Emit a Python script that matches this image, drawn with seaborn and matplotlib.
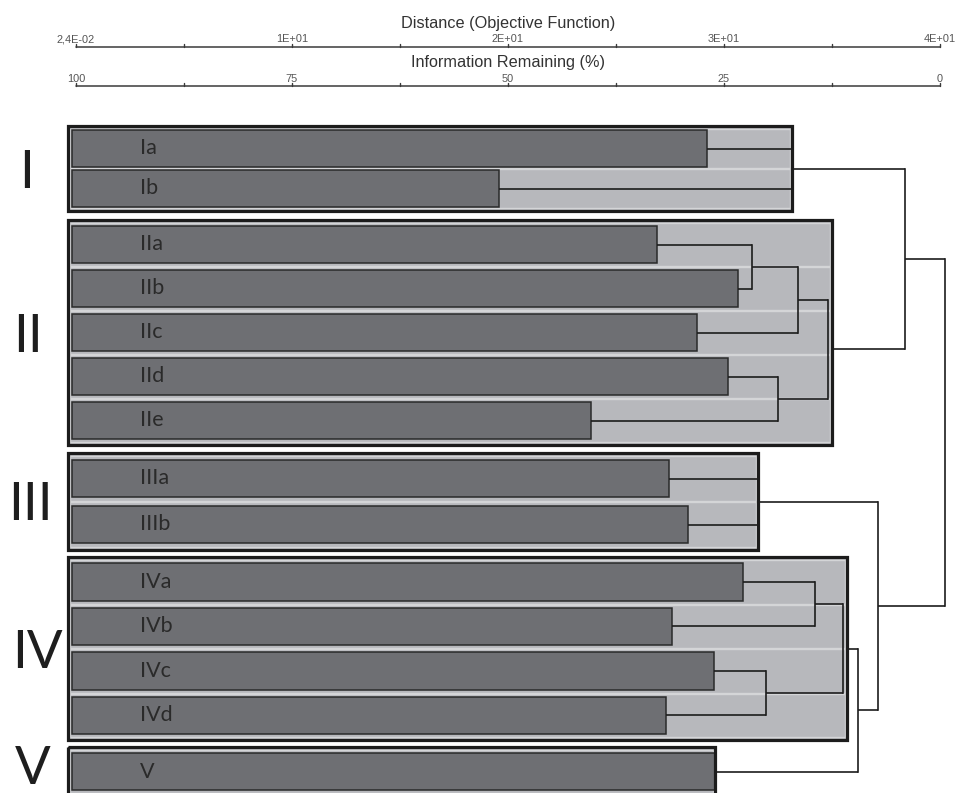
import matplotlib
matplotlib.use("Agg")
import matplotlib.pyplot as plt
from matplotlib.patches import Rectangle
import numpy as np
import pandas as pd
import seaborn as sns

# ---------------- data ----------------
group_names = ["I", "II", "III", "IV", "V"]
group_leaves = [["Ia", "Ib"],
                ["IIa", "IIb", "IIc", "IId", "IIe"],
                ["IIIa", "IIIb"],
                ["IVa", "IVb", "IVc", "IVd"],
                ["V"]]
leaf_names = ["Ia", "Ib", "IIa", "IIb", "IIc", "IId", "IIe",
              "IIIa", "IIIb", "IVa", "IVb", "IVc", "IVd", "V"]
# information remaining (%) at which each leaf bar ends
leaf_info_remaining = [27.0, 51.0, 32.8, 23.4, 28.1, 24.5, 40.4,
                       31.4, 29.2, 22.8, 31.0, 26.2, 31.7, 26.0]

# dendrogram merges (information remaining %)
merge_left = ["Ia", "IIa", "n1", "IId", "n2", "IIIa", "IVa", "IVc", "n4", "IV", "III", "I", "n8"]
merge_right = ["Ib", "IIb", "IIc", "IIe", "n3", "IIIb", "IVb", "IVd", "n5", "V", "n6", "II", "n7"]
merge_name = ["I", "n1", "n2", "n3", "II", "III", "n4", "n5", "IV", "n6", "n7", "n8", "root"]
merge_info_remaining = [17.1, 21.8, 16.4, 18.75, 13.0, 21.1, 14.5, 20.1, 11.2, 9.5, 7.2, 4.1, -0.6]

info_ticks = [100, 75, 50, 25, 0]
info_tick_labels = ["100", "75", "50", "25", "0"]
distance_tick_labels = ["2,4E-02", "1E+01", "2E+01", "3E+01", "4E+01"]

# ---------------- style / layout ----------------
BAR = "#6e6f73"
BOX = "#b7b8bc"
LANE_EDGE = "#d4d5d7"
INK = "#1c1c1c"

W, H = 956, 793
PX = 8.64          # pixels per percent
X0 = 76            # pixel of 100 % information remaining

box_tops = [126, 220, 453, 557, 747]
row_pitch = [40, 44, 46, 44.5, 44]
box_pad_px = [0, 4, 0, 4, 0]
group_label_x = [27, 28, 30, 37, 33]


def px(v):
    return v / PX


sns.set_theme(style="white")
plt.rcParams["font.family"] = ["Liberation Sans", "DejaVu Sans"]

fig = plt.figure(figsize=(W / 100, H / 100), dpi=100)
ax = fig.add_axes([0, 0, 1, 1])

# row positions
row_y = {}
for g, leaves in enumerate(group_leaves):
    for i, name in enumerate(leaves):
        row_y[name] = box_tops[g] + 2.5 + (i + 0.5) * row_pitch[g]

lost = {n: 100 - v for n, v in zip(leaf_names, leaf_info_remaining)}
node_lost = {n: 100 - v for n, v in zip(merge_name, merge_info_remaining)}

box_left = px(68 - X0)
bar_left = px(72 - X0)

group_right = {}
for g, gname in enumerate(group_names):
    if gname in node_lost:
        group_right[gname] = node_lost[gname] + px(box_pad_px[g])
    else:
        group_right[gname] = lost[gname]

# group boxes (fill + lanes), outline drawn on top
for g, gname in enumerate(group_names):
    n = len(group_leaves[g])
    hgt = n * row_pitch[g] + 5
    right = group_right[gname]
    ax.add_patch(Rectangle((box_left, box_tops[g]), right - box_left, hgt,
                           facecolor=BOX, edgecolor="none", zorder=0.5))
    for i, name in enumerate(group_leaves[g]):
        yc = row_y[name]
        ax.add_patch(Rectangle((box_left + px(2), yc - row_pitch[g] / 2 + 0.5),
                               right - box_left - px(4), row_pitch[g] - 1,
                               facecolor=BOX, edgecolor=LANE_EDGE, lw=1.0, zorder=0.6))
    ax.add_patch(Rectangle((box_left, box_tops[g]), right - box_left, hgt,
                           facecolor="none", edgecolor=INK, lw=2.3, zorder=6))

# bars through seaborn
df = pd.DataFrame({"leaf": leaf_names,
                   "lost": [lost[n] for n in leaf_names],
                   "y": [row_y[n] for n in leaf_names]})
n_before = len(ax.patches)
sns.barplot(data=df, x="lost", y="y", orient="y", native_scale=True,
            width=37.5 / 40, color=BAR, saturation=1, edgecolor="#2a2a2a",
            linewidth=1.1, errorbar=None, ax=ax)
for p in ax.patches[n_before:]:
    p.set_x(p.get_x() + bar_left)
    p.set_width(p.get_width() - bar_left)
    p.set_zorder(2)

# dendrogram
node_y = dict(row_y)
node_end = dict(lost)
for a, b, name in zip(merge_left, merge_right, merge_name):
    d = node_lost[name]
    ya, yb = node_y[a], node_y[b]
    for child, yy in ((a, ya), (b, yb)):
        ax.plot([node_end[child], d], [yy, yy], color=INK, lw=1.2, zorder=5,
                solid_capstyle="butt")
    ax.plot([d, d], [ya, yb], color=INK, lw=1.2, zorder=5, solid_capstyle="projecting")
    node_y[name] = (ya + yb) / 2
    node_end[name] = group_right[name] if name in group_right else d

# leaf labels
for name in leaf_names:
    ax.text(px(140 - X0), row_y[name] + 6, name, ha="left", va="baseline",
            fontsize=15.5, color="#2a2a2a", family=["Lato", "DejaVu Sans"], zorder=7)

# group labels
for g, gname in enumerate(group_names):
    n = len(group_leaves[g])
    if gname != "V":
        ax.text(px(group_label_x[g] - X0), box_tops[g] + (n * row_pitch[g] + 5) / 2 + 19,
                gname, ha="center", va="baseline", fontsize=38, color="#1e1e1e",
                family=["Lato", "DejaVu Sans"], zorder=7)
    else:
        ax.text(px(group_label_x[g] - X0), H - 0.5, gname, ha="center", va="bottom",
                fontsize=38, color="#1e1e1e", family=["Lato", "DejaVu Sans"], zorder=7)

# top scales
for y_line, labels, y_lab in ((47, distance_tick_labels, 42.5), (86, info_tick_labels, 81.5)):
    ax.plot([0, 100], [y_line, y_line], color="#3a3a3a", lw=1.1, zorder=5)
    for t in np.arange(0, 100.01, 12.5):
        ax.plot([t, t], [y_line, y_line - 3], color="#3a3a3a", lw=1.0, zorder=5)
    for t, lab in zip(info_ticks, labels):
        ax.text(100 - t, y_lab, lab, ha="center", va="baseline", fontsize=7.9,
                color="#555555")

ax.text(50, 28.3, "Distance (Objective Function)", ha="center", va="baseline",
        fontsize=11.7, color="#333333")
ax.text(50, 66.7, "Information Remaining (%)", ha="center", va="baseline",
        fontsize=11.7, color="#333333")

ax.set_xlim(-X0 / PX, (W - X0) / PX)
ax.set_ylim(H, 0)
ax.axis("off")

fig.savefig("out.png", dpi=100)
